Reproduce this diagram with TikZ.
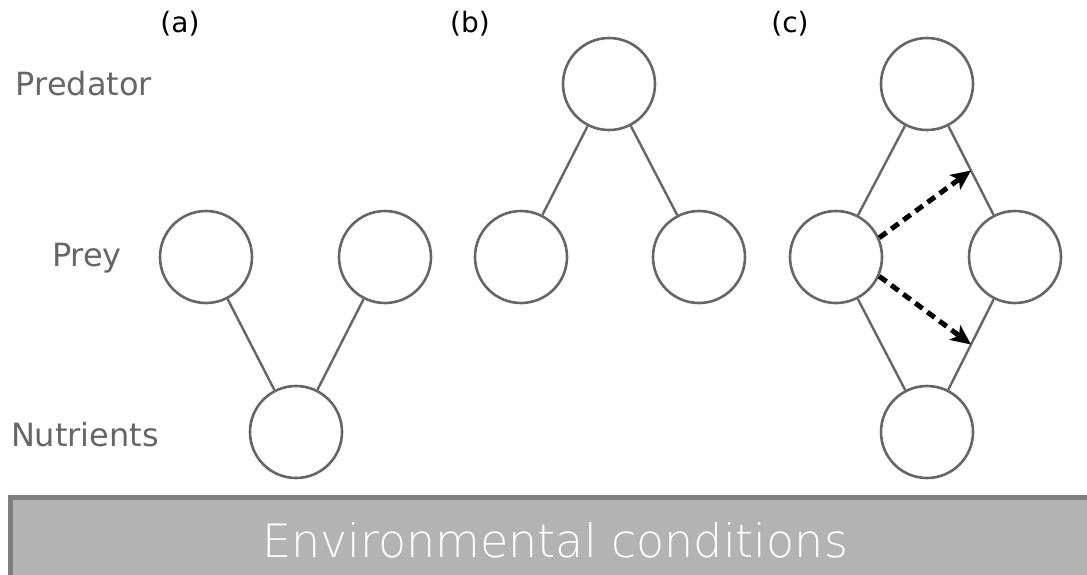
\documentclass[tikz,border=0pt]{standalone}
\usepackage{fontspec}
\setmainfont{DejaVu Sans}
\newfontfamily\barfont{DejaVu Sans ExtraLight}
\usetikzlibrary{arrows.meta,calc}
\definecolor{linegray}{HTML}{666666}
\definecolor{barfill}{HTML}{B3B3B3}
\definecolor{barline}{HTML}{7F7F7F}
\begin{document}
\begin{tikzpicture}[x=1pt,y=-1pt,
  species/.style={circle,draw=linegray,line width=2.6pt,minimum size=92pt,inner sep=0pt},
  link/.style={draw=linegray,line width=2.4pt},
  level/.style={text=linegray,font=\fontsize{32}{36}\selectfont},
  panel/.style={text=black,font=\fontsize{28}{32}\selectfont},
  effect/.style={line width=5pt,dash pattern=on 9pt off 6pt,-{Stealth[length=20pt,width=18pt,inset=5pt]}}]
\useasboundingbox (0,0) rectangle (1087,574);

% panel labels
\node[panel] (la) at (180,24) {(a)};
\node[panel] (lb) at (470,24) {(b)};
\node[panel] (lc) at (790,24) {(c)};

% trophic level labels
\node[level] (lpred) at (84,84) {Predator};
\node[level] (lprey) at (87,258) {Prey};
\node[level] (lnut) at (85,435) {Nutrients};

% (a) two prey on nutrients
\node[species] (a1) at (206,257) {};
\node[species] (a2) at (385,257) {};
\node[species] (an) at (296,432) {};
\draw[link] (a1) -- (an);
\draw[link] (a2) -- (an);

% (b) predator on two prey
\node[species] (bp) at (609,84) {};
\node[species] (b1) at (521,257) {};
\node[species] (b2) at (699,257) {};
\draw[link] (bp) -- (b1);
\draw[link] (bp) -- (b2);

% (c) diamond module
\node[species] (cp) at (927,84) {};
\node[species] (c1) at (836,257) {};
\node[species] (c2) at (1015,257) {};
\node[species] (cn) at (927,432) {};
\draw[link] (cp) -- (c1);
\draw[link] (cp) -- (c2);
\draw[link] (c1) -- (cn);
\draw[link] (c2) -- (cn);

% indirect effects
\coordinate (mtop) at ($(cp)!0.5!(c2)$);
\coordinate (mbot) at ($(cn)!0.5!(c2)$);
\draw[effect] (c1.24) -- (mtop);
\draw[effect] (c1.-24) -- (mbot);

% environment bar
\node[draw=barline,fill=barfill,line width=5pt,minimum width=1100pt,minimum height=90pt,anchor=north west,inner sep=0pt] (env) at (8,495) {};
\node[text=white,font=\barfont\fontsize{46}{50}\selectfont] (envtext) at (555,540) {Environmental conditions};
\end{tikzpicture}
\end{document}
